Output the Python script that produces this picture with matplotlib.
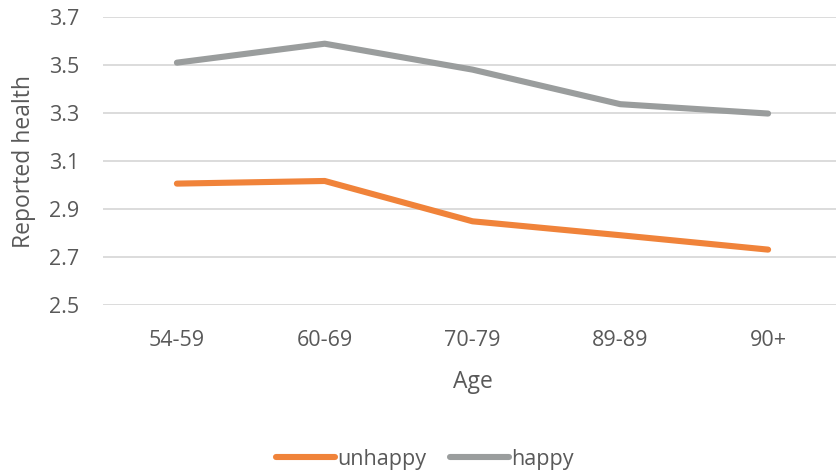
import matplotlib
matplotlib.use("Agg")
import matplotlib.pyplot as plt

plt.rcParams['font.family'] = ['Open Sans', 'DejaVu Sans']

age_groups = ["54-59", "60-69", "70-79", "89-89", "90+"]
unhappy = [3.007, 3.018, 2.850, 2.792, 2.732]
happy = [3.511, 3.590, 3.482, 3.338, 3.299]
y_ticks = [2.5, 2.7, 2.9, 3.1, 3.3, 3.5, 3.7]

text_color = "#595959"
grid_color = "#D9D9D9"
orange = "#F0833A"
gray = "#9A9D9D"
fs = 15.5

fig = plt.figure(figsize=(8.36, 4.74), dpi=100)
ax = fig.add_axes([103 / 836, (474 - 305.3) / 474, 739 / 836, 288 / 474])

x = list(range(len(age_groups)))
ax.plot(x, unhappy, color=orange, lw=4.4, solid_capstyle="round",
        solid_joinstyle="round", label="unhappy", zorder=3)
ax.plot(x, happy, color=gray, lw=4.4, solid_capstyle="round",
        solid_joinstyle="round", label="happy", zorder=3)

ax.set_xlim(-0.5, len(age_groups) - 0.5)
ax.set_ylim(2.5, 3.7)
ax.set_yticks(y_ticks)
ax.set_yticklabels([f"{v:.1f}" for v in y_ticks])
ax.set_xticks(x)
ax.set_xticklabels(age_groups)
ax.grid(axis="y", color=grid_color, lw=1.3)
ax.set_axisbelow(True)
for s in ax.spines.values():
    s.set_visible(False)
ax.tick_params(axis="both", length=0, labelsize=fs, labelcolor=text_color)
ax.tick_params(axis="y", pad=17)
ax.tick_params(axis="x", pad=18)

ax.set_xlabel("Age", fontsize=fs + 1, color=text_color)
ax.set_ylabel("Reported health", fontsize=fs + 1, color=text_color)
ax.xaxis.set_label_coords(0.5, -0.225)
ax.yaxis.set_label_coords(-0.09, 0.5)

fig.legend(loc="center", bbox_to_anchor=(0.508, (474 - 459) / 474), ncol=2,
           frameon=False, fontsize=fs, labelcolor=text_color,
           handlelength=2.75, handletextpad=0.1, columnspacing=1.1)

fig.savefig("out.png", dpi=100)
